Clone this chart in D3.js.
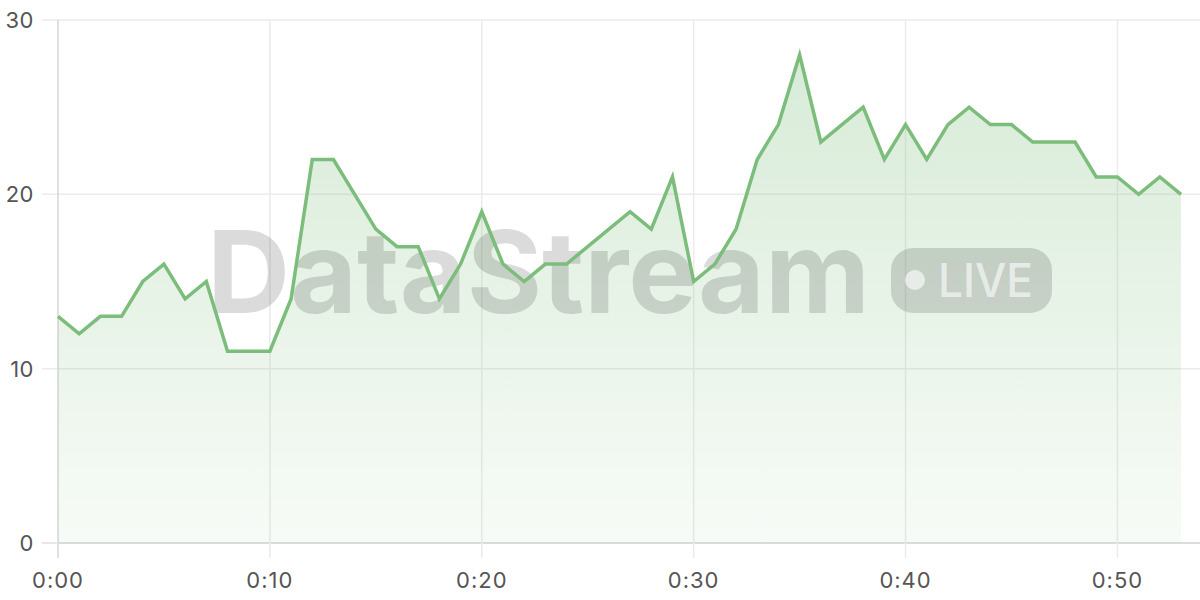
<!DOCTYPE html>
<html><head><meta charset="utf-8">
<script src="https://cdn.jsdelivr.net/npm/d3@7/dist/d3.min.js"></script>
<style>
html,body{margin:0;padding:0;background:#fff;}
svg{display:block;font-family:Inter,"Noto Sans",sans-serif;}
</style></head><body>
<svg id="chart" width="1200" height="600"></svg>
<script>
const minutes = d3.range(0, 54);
const values = [13,12,13,13,15,16,14,15,11,11,11,14,22,22,20,18,17,17,14,16,19,16,15,16,16,17,18,19,18,21,15,16,18,22,24,28,23,24,25,22,24,22,24,25,24,24,23,23,23,21,21,20,21,20];
const yTicks = [0,10,20,30];
const xTicks = [0,10,20,30,40,50];
const xTickLabels = ["0:00","0:10","0:20","0:30","0:40","0:50"];
const watermarkText = "DataStream";
const badgeText = "LIVE";

const data = minutes.map((m,i)=>({m, v: values[i]}));
const svg = d3.select("#chart");
const x = d3.scaleLinear().domain([0,53]).range([58,1181]);
const y = d3.scaleLinear().domain([0,30]).range([543,20]);

const defs = svg.append("defs");
const grad = defs.append("linearGradient").attr("id","fillGrad")
  .attr("gradientUnits","userSpaceOnUse").attr("x1",0).attr("x2",0).attr("y1",y(28)).attr("y2",y(0));
grad.append("stop").attr("offset","0%").attr("stop-color","#7cbd7c").attr("stop-opacity",0.30);
grad.append("stop").attr("offset","100%").attr("stop-color","#7cbd7c").attr("stop-opacity",0.06);

// grid
const g = svg.append("g");
g.selectAll(".hg").data(yTicks).join("line")
  .attr("x1",42).attr("x2",1200).attr("y1",d=>y(d)).attr("y2",d=>y(d))
  .attr("stroke",d=>d===0?"#d0d0d0":"#ebebeb").attr("stroke-width",1.5);
g.selectAll(".vg").data(xTicks).join("line")
  .attr("x1",d=>x(d)).attr("x2",d=>x(d)).attr("y1",y(30)).attr("y2",558)
  .attr("stroke",d=>d===0?"#d6d6d6":"#ebebeb").attr("stroke-width",1.5);
g.append("line").attr("x1",42).attr("x2",x(0)).attr("y1",y(0)).attr("y2",y(0))
  .attr("stroke","#ebebeb").attr("stroke-width",1.5);

// area
const area = d3.area().x(d=>x(d.m)).y0(y(0)).y1(d=>y(d.v));
svg.append("path").datum(data).attr("d",area).attr("fill","url(#fillGrad)");

// watermark
const wm = svg.append("g");
wm.append("text").attr("x",207).attr("y",313).text(watermarkText)
  .attr("font-family","Inter, 'Noto Sans', sans-serif").attr("font-weight",700)
  .attr("font-size",114).attr("textLength",663).attr("lengthAdjust","spacingAndGlyphs")
  .attr("fill","rgba(0,0,0,0.14)");
wm.append("rect").attr("x",891).attr("y",248).attr("width",161).attr("height",65).attr("rx",22)
  .attr("fill","rgba(0,0,0,0.14)");
wm.append("circle").attr("cx",915).attr("cy",280).attr("r",10).attr("fill","rgba(255,255,255,0.6)");
wm.append("text").attr("x",938).attr("y",297).text(badgeText)
  .attr("font-family","Inter, 'Noto Sans', sans-serif").attr("font-weight",500)
  .attr("font-size",47).attr("textLength",95).attr("lengthAdjust","spacingAndGlyphs")
  .attr("fill","rgba(255,255,255,0.6)");

// line
const line = d3.line().x(d=>x(d.m)).y(d=>y(d.v));
svg.append("path").datum(data).attr("d",line).attr("fill","none")
  .attr("stroke","#7cbd7c").attr("stroke-width",3.5).attr("stroke-linejoin","miter");

// labels
svg.selectAll(".yl").data(yTicks).join("text")
  .attr("x",34).attr("y",d=>y(d)).attr("dy","0.36em").attr("text-anchor","end")
  .attr("font-size",22).attr("letter-spacing",0.5).attr("fill","#555").text(d=>d);
svg.selectAll(".xl").data(xTicks).join("text")
  .attr("x",d=>x(d)).attr("y",588).attr("text-anchor","middle")
  .attr("font-size",22).attr("letter-spacing",1).attr("fill","#555").text((d,i)=>xTickLabels[i]);
</script>
</body></html>
